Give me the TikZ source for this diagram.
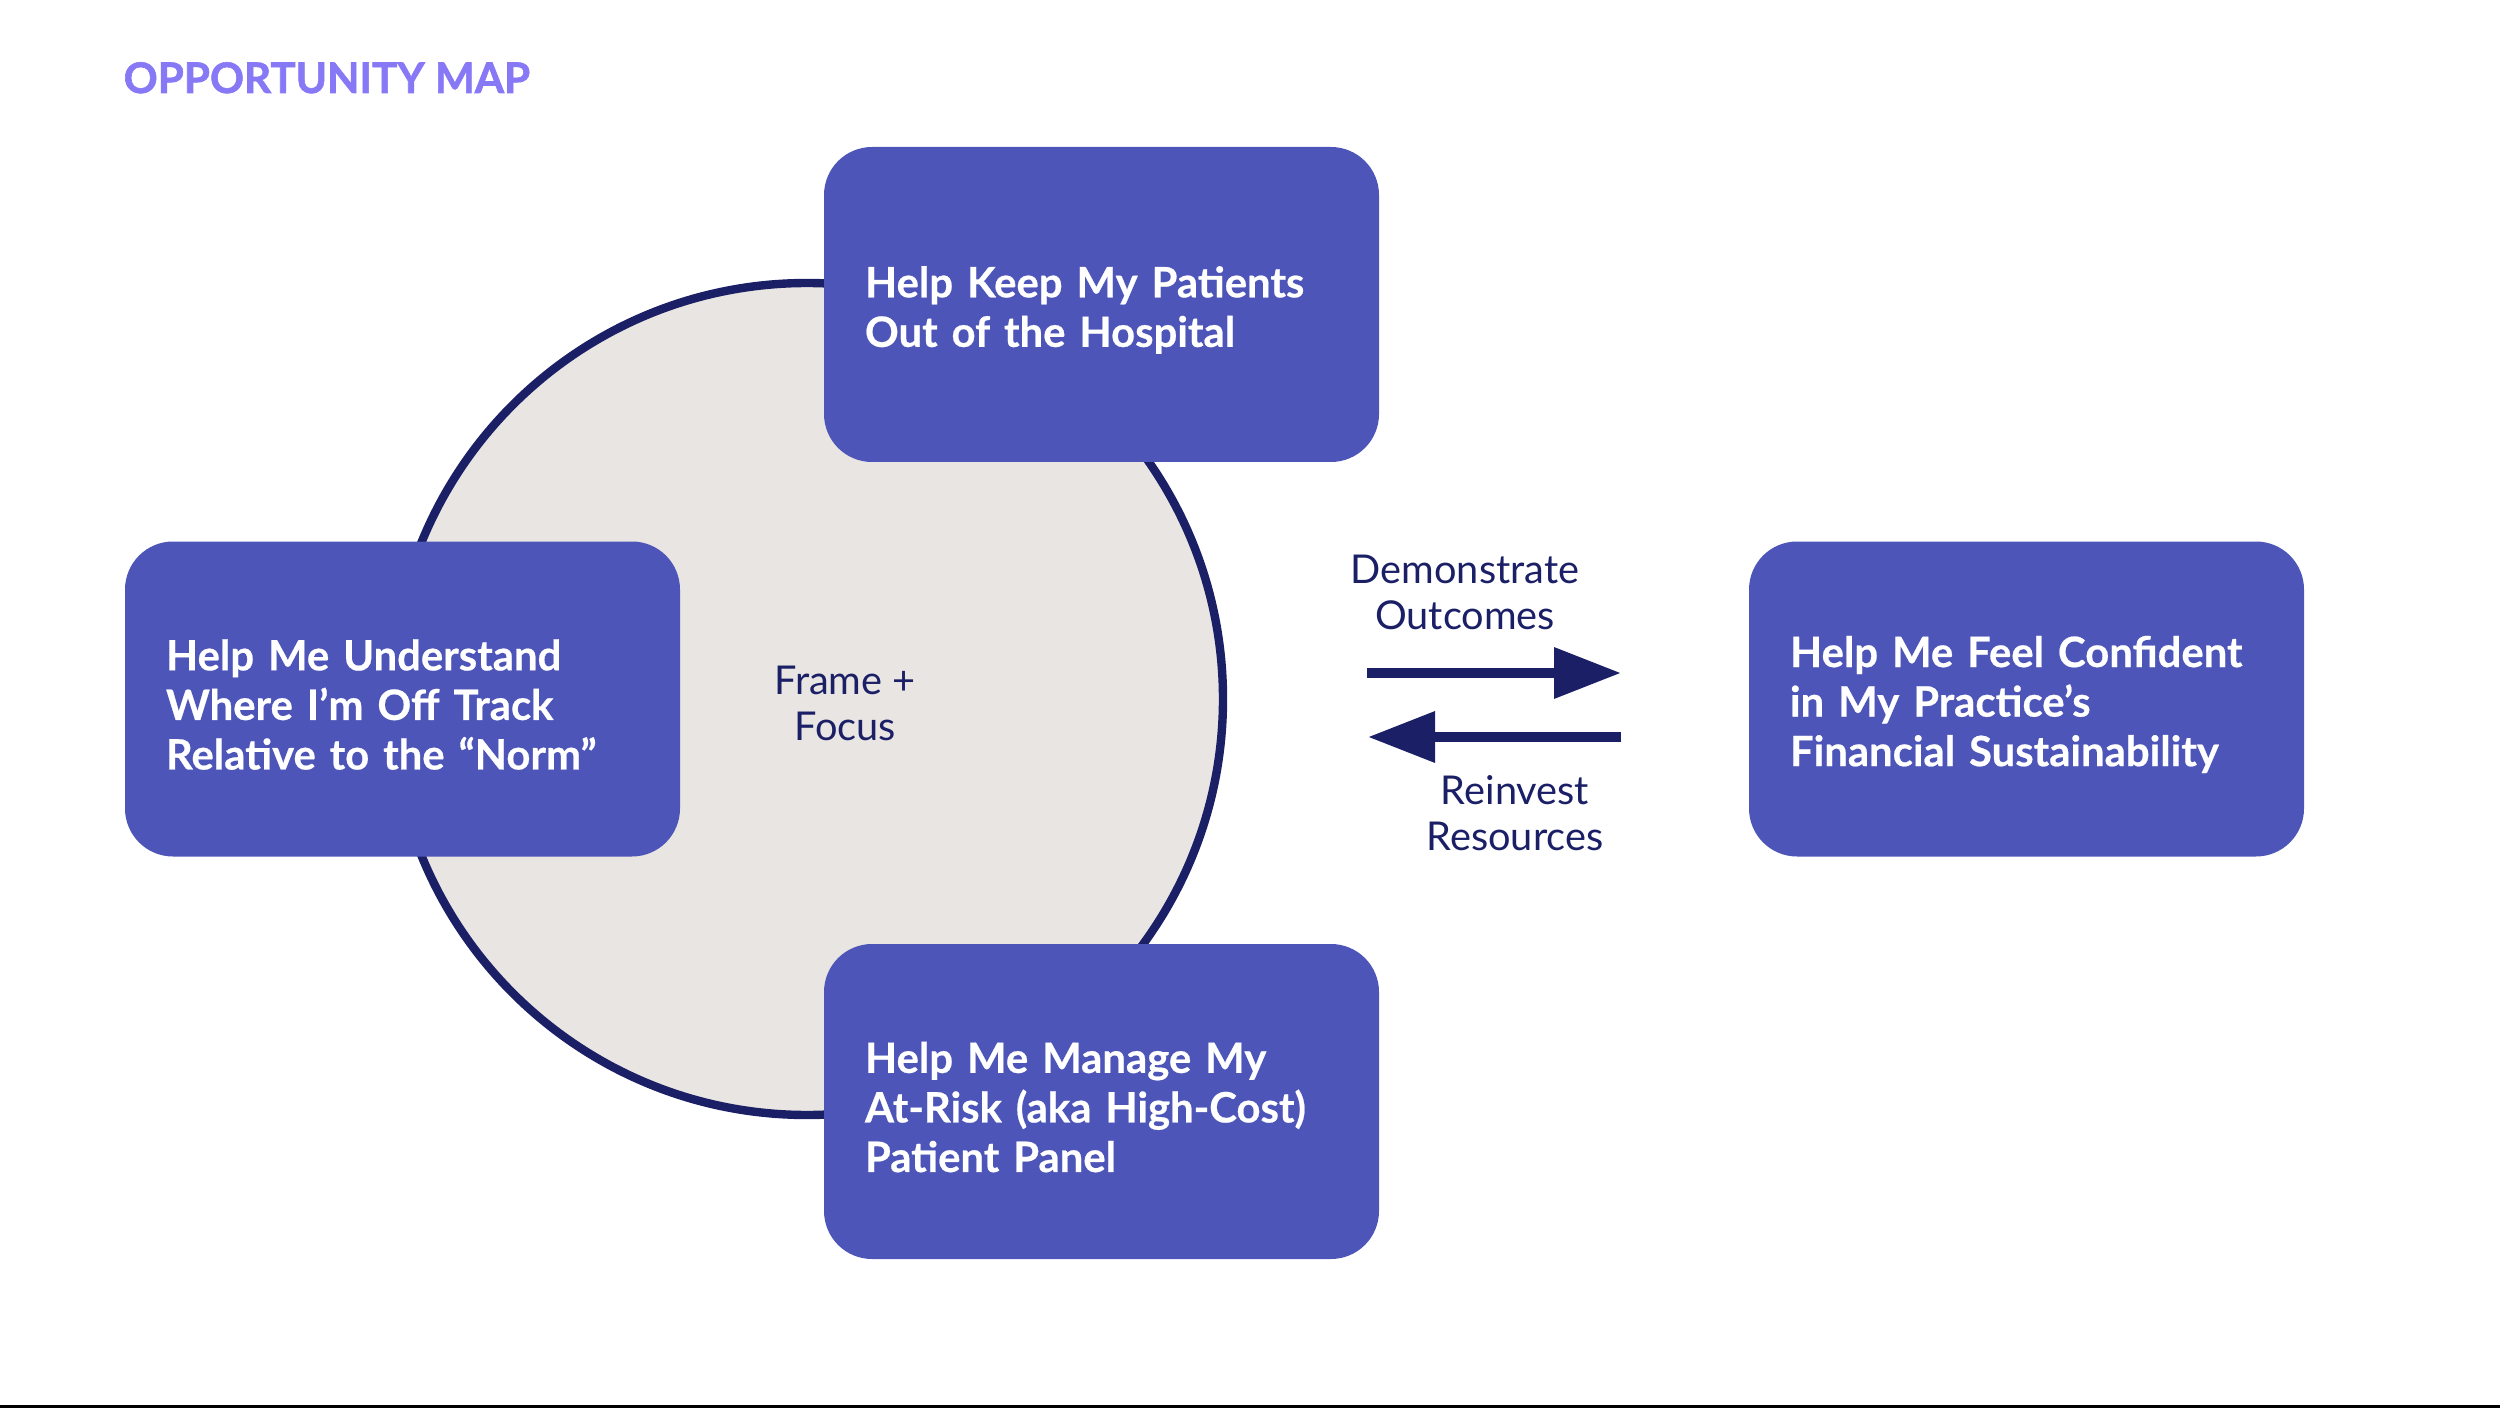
\documentclass[tikz,border=0pt]{standalone}
\usepackage{fontspec}
\setmainfont{Lato}
\newfontfamily\heavyfont{Lato}[FakeBold=1.4]
\newfontfamily\boxfont{Lato}[FakeBold=0.5]
\usepackage{tikz}
\usetikzlibrary{arrows.meta,positioning,calc}
\definecolor{boxblue}{HTML}{4D55B8}
\definecolor{navy}{HTML}{1A1F66}
\definecolor{ringfill}{HTML}{E9E5E2}
\definecolor{titlepurple}{HTML}{8778F6}

\begin{document}
\begin{tikzpicture}[x=0.1mm, y=-0.1mm,
    opp/.style={rectangle, rounded corners=4.8mm, fill=boxblue, text=white,
        font=\boxfont\fontsize{11.9}{14.1}\selectfont\bfseries, text width=47.3mm,
        inner xsep=4.1mm, inner ysep=0pt, minimum height=31.5mm, align=left,
        execute at begin node={\rule{0pt}{12pt}}},
    note/.style={text=navy, font=\fontsize{11.3}{13.1}\selectfont, align=center, inner sep=0pt},
    flow/.style={draw=navy, line width=1mm, -{Triangle[length=6.7mm,width=4.9mm]}}]

            \useasboundingbox (0,0) rectangle (2500,1408);

            \node[anchor=base west, inner sep=0pt, text=titlepurple,
                font=\heavyfont\fontsize{12}{14}\selectfont\bfseries] (title) at (123,93) {OPPORTUNITY MAP};

            \node[circle, draw=navy, fill=ringfill, line width=0.84mm, minimum size=83.2mm] (ring) at (807,699) {};
            \node[note] (focus) at (845,703) {Frame +\\Focus};

            \foreach \n/ \x/ \y/ \t in {keep/1101.5/304.5/{Help Keep My Patients\\Out of the Hospital},
                norm/402.5/699/{Help Me Understand\\Where I’m Off Track\\Relative to the “Norm”},
                risk/1101.5/1101.5/{Help Me Manage My\\At-Risk (aka High-Cost)\\Patient Panel},
                conf/2026.5/699/{Help Me Feel Confident\\in My Practice’s\\Financial Sustainability}}{
                \node[opp] (\n) at (\x,\y) {\t};
            }

            \coordinate (outA) at (1367,673);
            \coordinate (outB) at (1621,673);
            \coordinate (backA) at (1621,737);
            \coordinate (backB) at (1368,737);

            \draw[flow] (outA) -- (outB);
            \draw[flow] (backA) -- (backB);

            \node[note] (demo) at (1465,592) {Demonstrate\\Outcomes};
            \node[note] (reinvest) at (1515,813) {Reinvest\\Resources};

            \fill[black] (0,1405) rectangle (2500,1408);

    \end{tikzpicture}
\end{document}
